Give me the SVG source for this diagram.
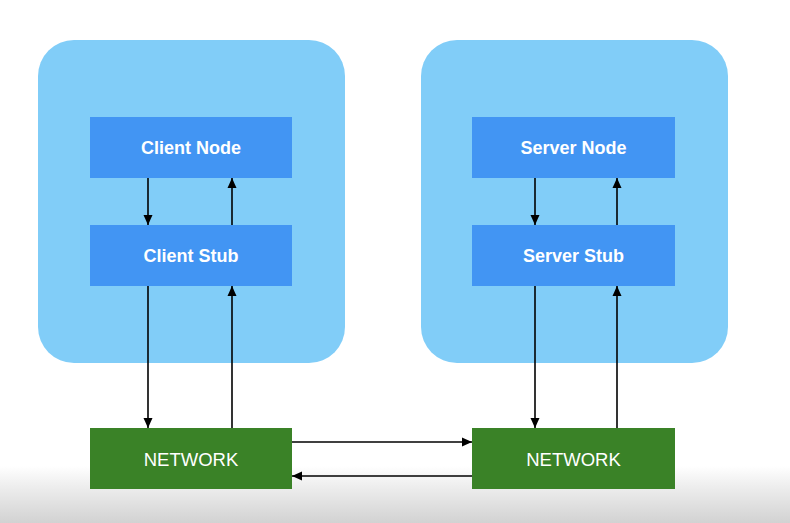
<svg xmlns="http://www.w3.org/2000/svg" width="790" height="523" viewBox="0 0 790 523">
<defs>
<linearGradient id="shade" x1="0" y1="0" x2="0" y2="1">
<stop offset="0" stop-color="#ffffff"/>
<stop offset="0.35" stop-color="#eeeeee"/>
<stop offset="1" stop-color="#d2d2d2"/>
</linearGradient>
<marker id="ah" viewBox="0 0 10 10" refX="10" refY="5" markerWidth="10" markerHeight="10" markerUnits="userSpaceOnUse" orient="auto">
<path d="M0,0.5 L10,5 L0,9.5 z" fill="#000"/>
</marker>
<style>
.group{fill:#81cdf8}
.blue{fill:#4295f3}
.green{fill:#3a8227}
.lbl{font-family:"Liberation Sans",Arial,sans-serif;font-size:18px;font-weight:bold;fill:#ffffff;text-anchor:middle;dominant-baseline:central}
.net{font-weight:normal;font-size:18.5px}
.conn{stroke:#000;stroke-width:1.6;fill:none;marker-end:url(#ah)}
</style>
</defs>
<rect x="0" y="0" width="790" height="523" fill="#ffffff"/>
<rect x="0" y="466" width="790" height="57" fill="url(#shade)"/>
<g id="client-group"><rect class="group" x="38" y="40" width="307" height="323" rx="36"/></g>
<g id="server-group"><rect class="group" x="421" y="40" width="307" height="323" rx="36"/></g>
<g id="client-node"><rect class="blue" x="90" y="117" width="202" height="61"/><text class="lbl" x="191" y="148">Client Node</text></g>
<g id="client-stub"><rect class="blue" x="90" y="225" width="202" height="61"/><text class="lbl" x="191" y="256">Client Stub</text></g>
<g id="server-node"><rect class="blue" x="472" y="117" width="203" height="61"/><text class="lbl" x="573.5" y="148">Server Node</text></g>
<g id="server-stub"><rect class="blue" x="472" y="225" width="203" height="61"/><text class="lbl" x="573.5" y="256">Server Stub</text></g>
<g id="network-left"><rect class="green" x="90" y="428" width="202" height="61"/><text class="lbl net" x="191" y="459">NETWORK</text></g>
<g id="network-right"><rect class="green" x="472" y="428" width="203" height="61"/><text class="lbl net" x="573.5" y="459">NETWORK</text></g>
<g id="connectors">
<line class="conn" x1="148" y1="178" x2="148" y2="225"/>
<line class="conn" x1="232" y1="225" x2="232" y2="178"/>
<line class="conn" x1="148" y1="286" x2="148" y2="428"/>
<line class="conn" x1="232" y1="428" x2="232" y2="286"/>
<line class="conn" x1="535" y1="178" x2="535" y2="225"/>
<line class="conn" x1="617" y1="225" x2="617" y2="178"/>
<line class="conn" x1="535" y1="286" x2="535" y2="428"/>
<line class="conn" x1="617" y1="428" x2="617" y2="286"/>
<line class="conn" x1="292" y1="442" x2="472" y2="442"/>
<line class="conn" x1="472" y1="476" x2="292" y2="476"/>
</g>
</svg>
